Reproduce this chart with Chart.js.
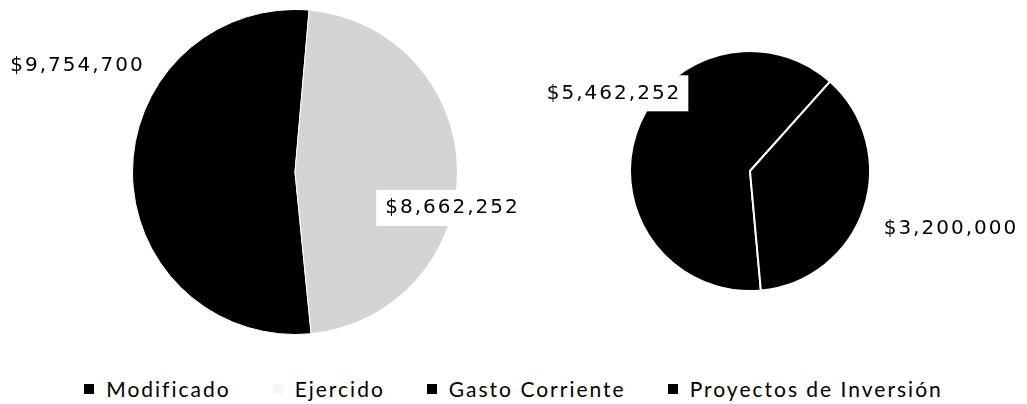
<!DOCTYPE html>
<html>
<head>
<meta charset="utf-8">
<script src="https://cdn.jsdelivr.net/npm/chart.js@4.4.1/dist/chart.umd.min.js"></script>
<style>
  html, body { margin: 0; padding: 0; background: #fff; }
  body { width: 1027px; height: 404px; position: relative; overflow: hidden; }
  .box { position: absolute; top: 0; height: 350px; }
  #leftBox { left: 0; width: 520px; }
  #rightBox { left: 520px; width: 507px; }
  #legend {
    position: absolute; left: 0; top: 376px; width: 1027px;
    display: flex; justify-content: center; gap: 42px;
    font-family: Lato; font-size: 21px; letter-spacing: 2px; line-height: 26px; color: #000;
  }
  .item { display: flex; align-items: center; }
  .mark { width: 10px; height: 10px; margin-right: 12px; }
</style>
</head>
<body>
<div class="box" id="leftBox"><canvas id="budgetChart"></canvas></div>
<div class="box" id="rightBox"><canvas id="spendChart"></canvas></div>
<div id="legend"></div>
<script>
// budget: modified vs spent
const budgetLabels = ['Modificado', 'Ejercido'];
const budgetValues = [9754700, 8662252];
const budgetColors = ['#000000', '#d4d4d4'];

// spent split by type
const spendLabels = ['Gasto Corriente', 'Proyectos de Inversión'];
const spendValues = [5462252, 3200000];
const spendColors = ['#000000', '#000000'];

const fmt = v => '$' + v.toLocaleString('en-US');

// value labels, placed relative to the outer middle of each slice
function valueLabels(offsets) {
  return {
    id: 'valueLabels',
    afterDatasetsDraw(chart) {
      const ctx = chart.ctx;
      const meta = chart.getDatasetMeta(0);
      const values = chart.data.datasets[0].data;
      ctx.save();
      ctx.font = '20px "DejaVu Sans"';
      ctx.letterSpacing = '2px';
      ctx.textAlign = 'center';
      ctx.textBaseline = 'middle';
      meta.data.forEach((arc, i) => {
        const o = offsets[i];
        const mid = (arc.startAngle + arc.endAngle) / 2;
        const x = arc.x + Math.cos(mid) * arc.outerRadius + o.dx;
        const y = arc.y + Math.sin(mid) * arc.outerRadius + o.dy;
        const text = fmt(values[i]);
        if (o.box) {
          const w = ctx.measureText(text).width;
          ctx.fillStyle = '#fff';
          ctx.fillRect(x - w / 2 - 8, y - 18, w + 16, 36);
        }
        ctx.fillStyle = '#000';
        ctx.fillText(text, x + 1, y);
      });
      ctx.restore();
    }
  };
}

function drawPie(canvasId, labels, data, colors, opts) {
  const ctx = document.getElementById(canvasId);
  if (!ctx) return;
  new Chart(ctx, {
    type: 'pie',
    data: {
      labels,
      datasets: [{
        data,
        backgroundColor: colors,
        borderColor: '#fff',
        borderWidth: opts.border,
        hoverOffset: 0
      }]
    },
    options: {
      responsive: true,
      maintainAspectRatio: false,
      animation: false,
      rotation: opts.rotation,
      layout: { padding: opts.padding },
      plugins: {
        legend: { display: false },
        tooltip: { enabled: false }
      }
    },
    plugins: [valueLabels(opts.labels)]
  });
}

drawPie('budgetChart', budgetLabels, budgetValues, budgetColors, {
  rotation: 174.3,
  border: 1,
  padding: { left: 132, right: 62, top: 9, bottom: 15 },
  labels: [{ dx: -56, dy: -107 }, { dx: -6, dy: 37, box: true }]
});

drawPie('spendChart', spendLabels, spendValues, spendColors, {
  rotation: 174.8,
  border: 2,
  padding: { left: 109, right: 156, top: 50, bottom: 58 },
  labels: [{ dx: -23, dy: -40, box: true }, { dx: 86, dy: 20 }]
});

// shared legend across both pies
const legend = document.getElementById('legend');
[[budgetLabels, budgetColors], [spendLabels, spendColors]].forEach(([labels, colors]) => {
  labels.forEach((label, i) => {
    const item = document.createElement('div');
    item.className = 'item';
    const mark = document.createElement('span');
    mark.className = 'mark';
    mark.style.background = colors[i] === '#d4d4d4' ? '#f6f6f6' : colors[i];
    const text = document.createElement('span');
    text.textContent = label;
    item.appendChild(mark);
    item.appendChild(text);
    legend.appendChild(item);
  });
});
</script>
</body>
</html>
